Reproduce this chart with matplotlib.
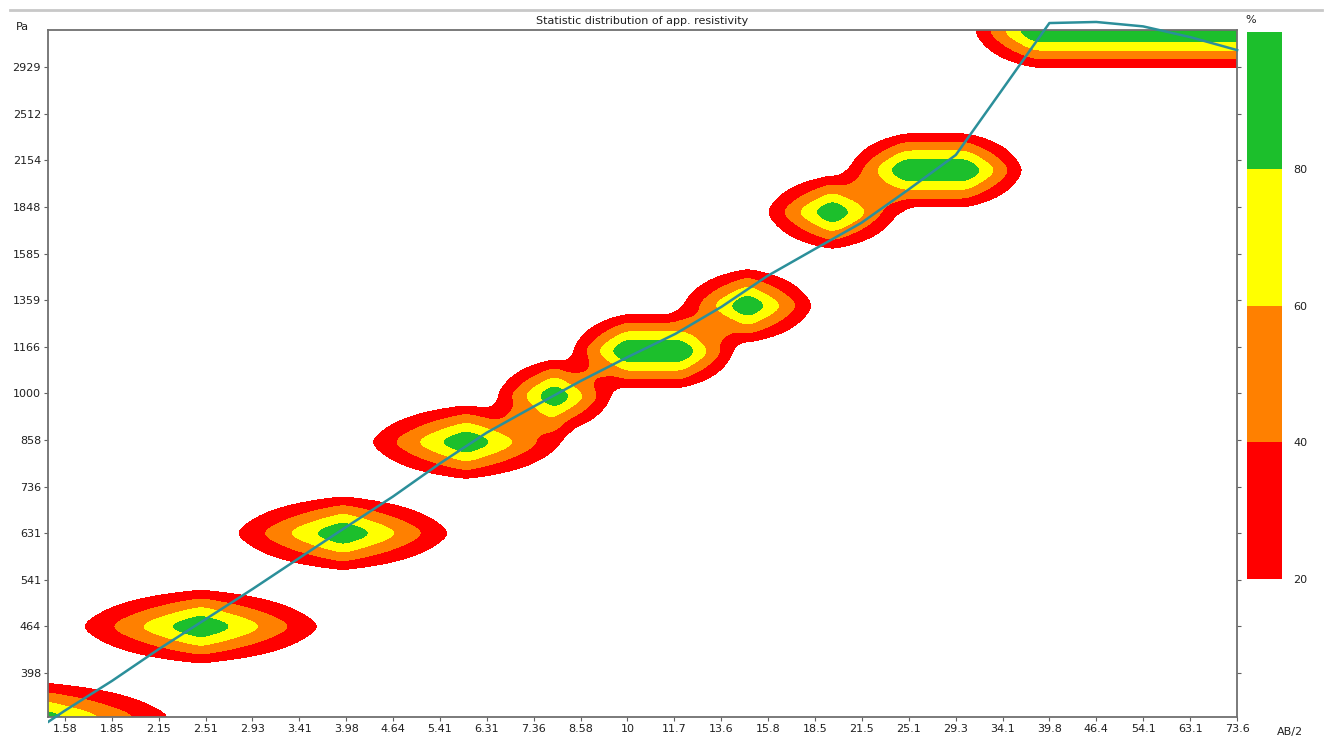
import numpy as np
import matplotlib
matplotlib.use("Agg")
import matplotlib.pyplot as plt
from matplotlib.lines import Line2D
from matplotlib.patches import Rectangle

plt.rcParams['font.family'] = ['Liberation Sans Narrow', 'DejaVu Sans']

# axis labels (AB/2 and apparent resistivity, log spaced, 15 per decade)
ab2_labels = ['1.58', '1.85', '2.15', '2.51', '2.93', '3.41', '3.98', '4.64', '5.41',
              '6.31', '7.36', '8.58', '10', '11.7', '13.6', '15.8', '18.5', '21.5',
              '25.1', '29.3', '34.1', '39.8', '46.4', '54.1', '63.1', '73.6']
rho_labels = ['398', '464', '541', '631', '736', '858', '1000', '1166', '1359',
              '1585', '1848', '2154', '2512', '2929']

# clusters of the distribution: centre (AB/2, rho_a), peak %, spreads in columns/rows
blob_ab2 = [1.413, 2.474, 3.939, 5.897, 7.87, 10.88, 14.82, 19.56, 27.42, 73.6]
blob_rho = [343, 464, 631, 852, 991, 1150, 1335, 1817, 2086, 3302]
blob_peak = [100, 100, 100, 100, 100, 100, 100, 100, 100, 100]
blob_flat = [0, 0, 0, 0, 0, 0.58, 0, 0, 0.64, 4.3]
blob_wide = [3.7, 3.12, 2.8, 2.5, 1.5, 1.4, 1.7, 1.71, 1.5, 1.6]
blob_tall = [0.966, 0.966, 0.966, 0.966, 0.966, 0.966, 0.966, 0.966, 0.966, 0.966]

# curve through the distribution (AB/2 = 1.36 first, then one value per column)
line_ab2 = [1.36] + [float(s) for s in ab2_labels]
line_rho = [317, 351, 388, 430, 475, 525, 581, 644, 712, 794, 879, 958, 1042, 1127,
            1217, 1330, 1472, 1611, 1754, 1958, 2194, 2720, 3388, 3400, 3351, 3235, 3099]

levels = [20, 40, 60, 80, 100]
colors = ['#ff0000', '#ff8000', '#ffff00', '#1cbf2c']


def xpos(v):
    return 15 * np.log10(v) - 3


def ypos(v):
    return 15 * np.log10(v) - 39


def blur(a, n, axis):
    k = np.ones(n) / n
    return np.apply_along_axis(lambda m: np.convolve(m, k, mode='same'), axis, a)


gx, gy = np.meshgrid(np.linspace(-0.6, 25.6, 900), np.linspace(-1.3, 14.3, 600))
field = np.zeros_like(gx)
for bx, by, pk, fl, wa, tb in zip(blob_ab2, blob_rho, blob_peak, blob_flat, blob_wide, blob_tall):
    u = np.maximum(np.abs(gx - xpos(bx)) - fl, 0) / wa
    v = np.abs(gy - ypos(by)) / tb
    f = np.clip(1 - u - v + 0.85 * u * v, 0, None)
    f[(u >= 1) | (v >= 1)] = 0
    field += pk * f
field = np.clip(field, 0, 100)
for _ in range(2):
    field = blur(blur(field, 7, 1), 7, 0)
field = np.clip(field * 1.05, 0, 100)

fig = plt.figure(figsize=(13.3, 7.41), dpi=100)
ax = fig.add_axes([48 / 1330, 24 / 741, 1189 / 1330, 687 / 741])
cs = ax.contourf(gx, gy, field, levels=levels, colors=colors)

ln, = ax.plot(xpos(np.array(line_ab2)), ypos(np.array(line_rho)), color='#2b8f9a', lw=1.8, zorder=5)
ln.set_clip_path(Rectangle((0, -0.01), 1.01, 1.1, transform=ax.transAxes))

ax.set_xlim(-0.36, 25)
ax.set_ylim(-0.944, 13.8)
ax.set_xticks(range(len(ab2_labels)))
ax.set_xticklabels(ab2_labels)
ax.set_yticks(range(len(rho_labels)))
ax.set_yticklabels(rho_labels)
ax.tick_params(labelsize=8, colors='#606060', labelcolor='#202020', length=3, pad=2,
               right=True)
for s in ax.spines.values():
    s.set_color('#707070')
    s.set_linewidth(1.3)

ax.set_title('Statistic distribution of app. resistivity', fontsize=8, color='#202020', pad=4)
fig.text(22 / 1330, 1 - 27 / 741, 'Pa', fontsize=8, color='#202020', ha='center', va='center')
fig.text(1290 / 1330, 1 - 732 / 741, 'AB/2', fontsize=8, color='#202020', ha='center', va='center')
fig.text(1251 / 1330, 1 - 20 / 741, '%', fontsize=8, color='#202020', ha='center', va='center')

cax = fig.add_axes([1247 / 1330, 162 / 741, 35 / 1330, 547 / 741])
cb = fig.colorbar(cs, cax=cax)
cb.outline.set_visible(False)
cb.set_ticks([20, 40, 60, 80])
cb.ax.tick_params(length=0, labelsize=8, labelcolor='#202020', pad=8)

fig.add_artist(Line2D([10 / 1330, 1322 / 1330], [1 - 10 / 741] * 2, color='#c8c8c8', lw=2))

fig.savefig('out.png', dpi=100)
